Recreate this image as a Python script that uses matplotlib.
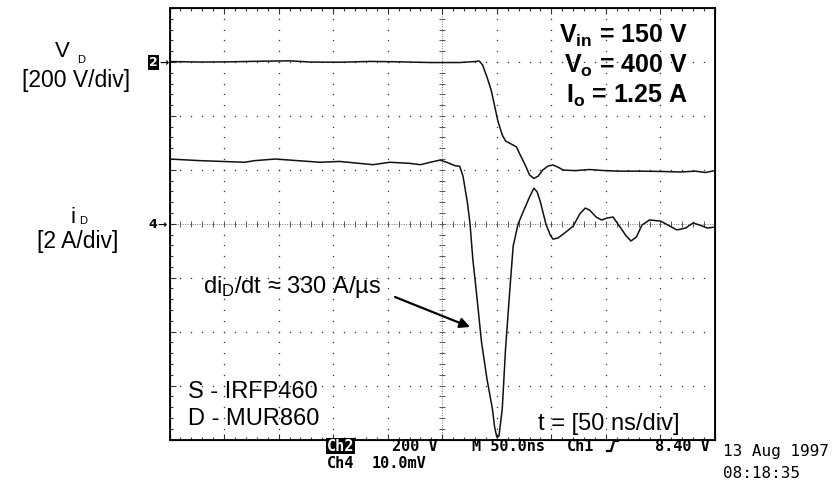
import numpy as np
import matplotlib.pyplot as plt
from matplotlib.lines import Line2D
from matplotlib.ticker import MultipleLocator

plt.rcParams['font.family'] = ['Liberation Sans', 'DejaVu Sans']
plt.rcParams['mathtext.default'] = 'regular'

W, H = 836, 485

# scope screen: 10 x 8 div, 50 ns/div, ch2 200 V/div (ground at div 7), ch4 2 A/div (ground at div 4)
t_vd = [0, 28, 55.5, 83, 110.5, 129, 156, 184, 211, 239,
        266, 280, 284, 287, 291, 295, 298, 301, 305, 308,
        313, 318, 321, 326, 330, 334, 338, 342, 347, 351.5,
        356, 361, 372, 385, 399, 413, 431, 450, 468, 482,
        491, 500]
v_d = [1.5, -0.4, 0.4, 2.6, 4.1, -0.4, -1.1, 1.9, 0.4, -2.2,
       -2.2, 1.5, 3.3, -11.5, -56, -107, -163, -219, -271, -293,
       -304, -315, -341, -382, -419, -432, -423, -401, -386, -382,
       -390, -401, -403, -399, -403, -405, -405, -406, -408, -405,
       -410, -403]

t_id = [0, 28, 69, 78, 97, 110.5, 138, 156, 186.5, 202,
        220, 230, 239, 248, 254, 262, 266, 269, 273, 275.5,
        278, 281, 286, 291, 296, 298, 300, 302, 305, 308,
        312, 315, 319.5, 324, 330, 334, 337, 340, 345, 349,
        351.5, 356, 361, 370, 376, 381, 385, 391, 396, 401,
        406.5, 413, 418, 423, 428, 433, 440, 450, 457, 465,
        473, 480, 486, 493, 500]
i_d = [2.40, 2.34, 2.28, 2.34, 2.40, 2.36, 2.28, 2.31, 2.19, 2.28,
       2.24, 2.19, 2.28, 2.36, 2.28, 2.15, 2.13, 1.77, 0.80, -0.01,
       -1.31, -2.42, -4.39, -5.76, -6.87, -7.54, -7.91, -7.87, -6.87, -4.65,
       -2.42, -0.83, -0.01, 0.43, 0.99, 1.32, 1.18, 0.80, -0.01, -0.42,
       -0.57, -0.53, -0.38, -0.09, 0.36, 0.58, 0.51, 0.25, 0.14, 0.21,
       0.25, -0.12, -0.42, -0.64, -0.49, -0.05, 0.14, 0.10, -0.05, -0.23,
       -0.16, 0.03, -0.05, -0.16, -0.12]

status_top = ['200 V', 'M 50.0ns', 'Ch1', '8.40 V']
status_top_x = [392, 472, 567, 655]


def fp(x, y):
    # pixel position (from top-left) -> figure fraction
    return x / W, 1 - y / H


fig = plt.figure(figsize=(W / 100, H / 100), dpi=100)
ax = fig.add_axes([169.5 / W, 1 - 440.5 / H, 545.5 / W, 431.5 / H])
ax.set_xlim(0, 500)
ax.set_ylim(-1400, 200)

# dotted graticule
dot = dict(ls='none', marker='s', ms=0.9, mew=0, color='#333', zorder=1)
for tx in range(50, 500, 50):
    if tx == 250:
        continue
    ys = np.arange(-1400, 200, 40)[1:]
    ax.plot(np.full(len(ys), tx), ys, **dot)
for vy in range(-1200, 200, 200):
    if vy == -600:
        continue
    xs = np.arange(0, 500, 10)[1:]
    ax.plot(xs, np.full(len(xs), vy), **dot)

# centre cross with small ticks
ax.plot([0, 500], [-600, -600], ls=(0, (1, 1.5)), lw=0.7, color='#777', zorder=1)
ax.plot([250, 250], [-1400, 200], ls=(0, (1, 1.5)), lw=0.7, color='#777', zorder=1)
xs = np.arange(0, 500, 10)[1:]
ax.plot(xs, np.full(len(xs), -600), ls='none', marker='|', ms=4, mew=0.7, color='#555', zorder=1)
ys = np.arange(-1400, 200, 40)[1:]
ax.plot(np.full(len(ys), 250), ys, ls='none', marker='_', ms=4, mew=0.7, color='#555', zorder=1)

ax.xaxis.set_major_locator(MultipleLocator(50))
ax.xaxis.set_minor_locator(MultipleLocator(10))
ax.yaxis.set_major_locator(MultipleLocator(200))
ax.yaxis.set_minor_locator(MultipleLocator(40))
ax.tick_params(which='both', direction='in', top=True, right=True,
               labelbottom=False, labelleft=False, width=0.8, color='#333')
ax.tick_params(which='major', length=4)
ax.tick_params(which='minor', length=2.5)
for s in ax.spines.values():
    s.set_linewidth(1.3)

ax.plot(t_vd, v_d, color='#111', lw=1.1, zorder=3)

ax2 = ax.twinx()
ax2.set_ylim(-8, 8)
ax2.set_yticks([])
ax2.plot(t_id, i_d, color='#111', lw=1.1, zorder=3)

# channel labels
fig.text(*fp(55, 57), 'V', size=16, va='baseline')
fig.text(*fp(77, 63), 'D', size=8, va='baseline')
fig.text(*fp(76, 87), '[200 V/div]', size=16.5, ha='center', va='baseline')
fig.text(*fp(71, 223), 'i', size=16, va='baseline')
fig.text(*fp(79, 224), 'D', size=8, va='baseline')
fig.text(*fp(78, 248), '[2 A/div]', size=16.5, ha='center', va='baseline')

# ground markers
fig.text(*fp(149, 63), '2', color='w', size=9, weight='bold', family='DejaVu Sans',
         va='center', bbox=dict(boxstyle='square,pad=0.08', fc='k', ec='none'))
fig.text(*fp(159, 63), '\u2192', size=8, va='center', family='DejaVu Sans', weight='bold')
fig.text(*fp(148, 225), '4', size=9, va='center', family='DejaVu Sans', weight='bold')
fig.text(*fp(157, 225), '\u2192', size=8, va='center', family='DejaVu Sans', weight='bold')

# operating point
fig.text(*fp(688, 43), r'V$_{in}$ = 150 V', size=18, weight='bold', ha='right', va='baseline')
fig.text(*fp(688, 73), r'V$_{o}$ = 400 V', size=18, weight='bold', ha='right', va='baseline')
fig.text(*fp(688, 103), r'I$_{o}$ = 1.25 A', size=18, weight='bold', ha='right', va='baseline')

fig.text(*fp(203, 293), r'di$_{D}$/dt ≈ 330 A/µs', size=17, va='baseline')
ax.annotate('', xy=(470, H - 328), xycoords='figure pixels',
            xytext=(395, H - 298), textcoords='figure pixels',
            arrowprops=dict(arrowstyle='-|>', color='k', lw=1.6,
                            mutation_scale=15, shrinkA=0, shrinkB=0))

fig.text(*fp(188, 398), 'S - IRFP460', size=17, va='baseline')
fig.text(*fp(188, 425), 'D - MUR860', size=17, va='baseline')
fig.text(*fp(680, 430), 't = [50 ns/div]', size=17, ha='right', va='baseline')

# scope status bar
mono = dict(family='DejaVu Sans Mono', size=11, weight='bold', va='center')
fig.text(*fp(327, 447), 'Ch2', color='w',
         bbox=dict(boxstyle='square,pad=0.05', fc='k', ec='none'), **mono)
for lab, x in zip(status_top, status_top_x):
    fig.text(*fp(x, 447), lab, **mono)
fig.text(*fp(327, 463), 'Ch4', **mono)
fig.text(*fp(372, 463), '10.0mV', **mono)
sx = [607, 611, 614, 618]
sy = [452, 452, 442, 442]
fig.add_artist(Line2D([x / W for x in sx], [1 - y / H for y in sy],
                      color='k', lw=1.6, transform=fig.transFigure))

fig.text(*fp(723, 452), '13 Aug 1997', family='DejaVu Sans Mono', size=11.5, va='center')
fig.text(*fp(723, 474), '08:18:35', family='DejaVu Sans Mono', size=11.5, va='center')

plt.savefig('out.png', dpi=100, facecolor='w')
